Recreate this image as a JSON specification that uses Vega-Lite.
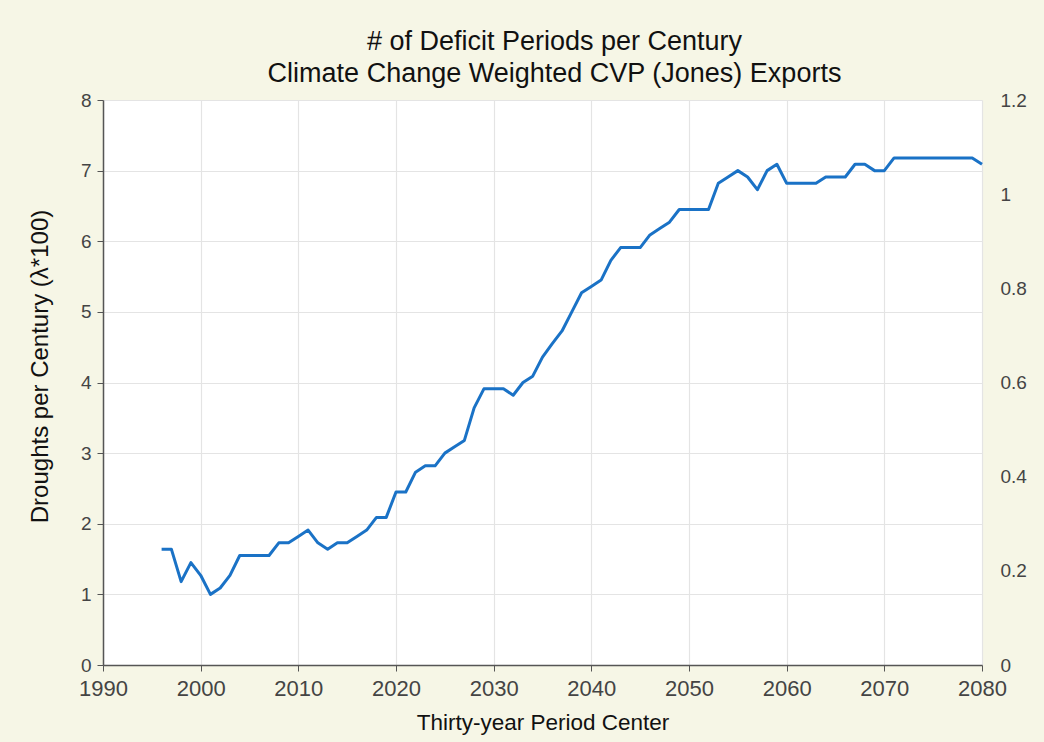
{
  "$schema": "https://vega.github.io/schema/vega-lite/v6.json",
  "autosize": {"type": "none"},
  "width": 879,
  "height": 565,
  "padding": {"left": 103, "top": 100, "right": 62, "bottom": 77},
  "background": "#f6f6e6",
  "title": {
    "text": ["# of Deficit Periods per Century", "Climate Change Weighted CVP (Jones) Exports"],
    "anchor": "middle",
    "dx": 12,
    "offset": 3,
    "font": "Liberation Sans, Arial",
    "fontSize": 27,
    "fontWeight": "normal",
    "color": "#111111",
    "lineHeight": 32
  },
  "data": {
    "values": [
      {"year": 1996, "droughts": 1.64}, {"year": 1997, "droughts": 1.64},
      {"year": 1998, "droughts": 1.18}, {"year": 1999, "droughts": 1.45},
      {"year": 2000, "droughts": 1.27}, {"year": 2001, "droughts": 1.0},
      {"year": 2002, "droughts": 1.09}, {"year": 2003, "droughts": 1.27},
      {"year": 2004, "droughts": 1.55}, {"year": 2005, "droughts": 1.55},
      {"year": 2006, "droughts": 1.55}, {"year": 2007, "droughts": 1.55},
      {"year": 2008, "droughts": 1.73}, {"year": 2009, "droughts": 1.73},
      {"year": 2010, "droughts": 1.82}, {"year": 2011, "droughts": 1.91},
      {"year": 2012, "droughts": 1.73}, {"year": 2013, "droughts": 1.64},
      {"year": 2014, "droughts": 1.73}, {"year": 2015, "droughts": 1.73},
      {"year": 2016, "droughts": 1.82}, {"year": 2017, "droughts": 1.91},
      {"year": 2018, "droughts": 2.09}, {"year": 2019, "droughts": 2.09},
      {"year": 2020, "droughts": 2.45}, {"year": 2021, "droughts": 2.45},
      {"year": 2022, "droughts": 2.73}, {"year": 2023, "droughts": 2.82},
      {"year": 2024, "droughts": 2.82}, {"year": 2025, "droughts": 3.0},
      {"year": 2026, "droughts": 3.09}, {"year": 2027, "droughts": 3.18},
      {"year": 2028, "droughts": 3.64}, {"year": 2029, "droughts": 3.91},
      {"year": 2030, "droughts": 3.91}, {"year": 2031, "droughts": 3.91},
      {"year": 2032, "droughts": 3.82}, {"year": 2033, "droughts": 4.0},
      {"year": 2034, "droughts": 4.09}, {"year": 2035, "droughts": 4.36},
      {"year": 2036, "droughts": 4.55}, {"year": 2037, "droughts": 4.73},
      {"year": 2038, "droughts": 5.0}, {"year": 2039, "droughts": 5.27},
      {"year": 2040, "droughts": 5.36}, {"year": 2041, "droughts": 5.45},
      {"year": 2042, "droughts": 5.73}, {"year": 2043, "droughts": 5.91},
      {"year": 2044, "droughts": 5.91}, {"year": 2045, "droughts": 5.91},
      {"year": 2046, "droughts": 6.09}, {"year": 2047, "droughts": 6.18},
      {"year": 2048, "droughts": 6.27}, {"year": 2049, "droughts": 6.45},
      {"year": 2050, "droughts": 6.45}, {"year": 2051, "droughts": 6.45},
      {"year": 2052, "droughts": 6.45}, {"year": 2053, "droughts": 6.82},
      {"year": 2054, "droughts": 6.91}, {"year": 2055, "droughts": 7.0},
      {"year": 2056, "droughts": 6.91}, {"year": 2057, "droughts": 6.73},
      {"year": 2058, "droughts": 7.0}, {"year": 2059, "droughts": 7.09},
      {"year": 2060, "droughts": 6.82}, {"year": 2061, "droughts": 6.82},
      {"year": 2062, "droughts": 6.82}, {"year": 2063, "droughts": 6.82},
      {"year": 2064, "droughts": 6.91}, {"year": 2065, "droughts": 6.91},
      {"year": 2066, "droughts": 6.91}, {"year": 2067, "droughts": 7.09},
      {"year": 2068, "droughts": 7.09}, {"year": 2069, "droughts": 7.0},
      {"year": 2070, "droughts": 7.0}, {"year": 2071, "droughts": 7.18},
      {"year": 2072, "droughts": 7.18}, {"year": 2073, "droughts": 7.18},
      {"year": 2074, "droughts": 7.18}, {"year": 2075, "droughts": 7.18},
      {"year": 2076, "droughts": 7.18}, {"year": 2077, "droughts": 7.18},
      {"year": 2078, "droughts": 7.18}, {"year": 2079, "droughts": 7.18},
      {"year": 2080, "droughts": 7.09}
    ]
  },
  "encoding": {
    "x": {
      "field": "year",
      "type": "quantitative",
      "scale": {"domain": [1990, 2080], "nice": false, "zero": false},
      "axis": {
        "title": "Thirty-year Period Center",
        "values": [1990, 2000, 2010, 2020, 2030, 2040, 2050, 2060, 2070, 2080],
        "format": "d",
        "labelFlush": false,
        "labelOverlap": false,
        "labelFontSize": 22,
        "labelPadding": 7,
        "titleFontSize": 22.5,
        "titlePadding": 12
      }
    }
  },
  "layer": [
    {
      "mark": {"type": "line", "color": "#1a72c6", "strokeWidth": 3, "strokeJoin": "round"},
      "encoding": {
        "y": {
          "field": "droughts",
          "type": "quantitative",
          "scale": {"domain": [0, 8], "nice": false},
          "axis": {
            "title": "Droughts per Century (λ*100)",
            "orient": "left",
            "values": [0, 1, 2, 3, 4, 5, 6, 7, 8],
            "labelFlush": false,
            "titleFontSize": 24,
            "titleY": 266,
            "titleX": -51
          }
        }
      }
    },
    {
      "mark": {"type": "point", "opacity": 0},
      "encoding": {
        "y": {
          "field": "droughts",
          "type": "quantitative",
          "axis": {
            "title": null,
            "orient": "right",
            "grid": false,
            "domain": false,
            "ticks": false,
            "labelFlush": false,
            "labelPadding": 18,
            "labelAlign": "left",
            "values": [0, 1.333333, 2.666667, 4, 5.333333, 6.666667, 8],
            "labelExpr": "format(datum.value * 0.15, '.1~f')"
          }
        }
      }
    }
  ],
  "resolve": {"axis": {"y": "independent"}},
  "config": {
    "view": {"fill": "#ffffff", "stroke": null},
    "axis": {
      "labelFont": "Liberation Sans, Arial",
      "labelFontSize": 19,
      "labelColor": "#444444",
      "titleFont": "Liberation Sans, Arial",
      "titleFontSize": 20,
      "titleFontWeight": "normal",
      "titleColor": "#111111",
      "domainColor": "#555555",
      "domainWidth": 1.5,
      "tickColor": "#555555",
      "tickSize": 6,
      "labelPadding": 6,
      "gridColor": "#e4e4e4",
      "gridWidth": 1.2
    }
  }
}
